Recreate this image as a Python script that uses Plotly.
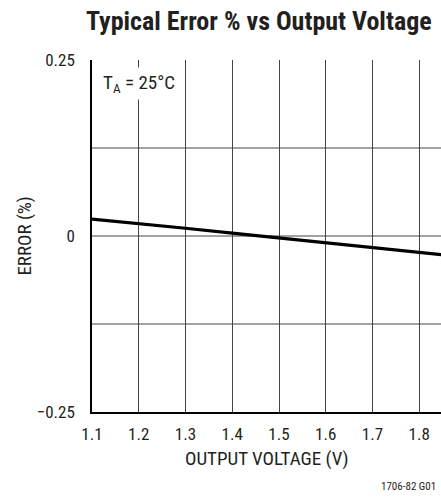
import plotly.graph_objects as go

# Data
voltage = [1.1, 1.2, 1.3, 1.4, 1.5, 1.6, 1.7, 1.8, 1.9]
error_pct = [0.024, 0.018, 0.011, 0.004, -0.003, -0.010, -0.017, -0.023, -0.030]
x_ticks = [1.1, 1.2, 1.3, 1.4, 1.5, 1.6, 1.7, 1.8]
x_tick_labels = ["1.1", "1.2", "1.3", "1.4", "1.5", "1.6", "1.7", "1.8"]
y_ticks = [-0.25, 0, 0.25]
y_tick_labels = ["\u22120.25", "0", "0.25"]
y_grid = [-0.25, -0.125, 0, 0.125, 0.25]

FONT = "Roboto Condensed, DejaVu Sans Condensed, sans-serif"

fig = go.Figure()
fig.add_trace(go.Scatter(
    x=voltage, y=error_pct, mode="lines",
    line=dict(color="black", width=3.2),
    hoverinfo="skip", showlegend=False,
))

fig.update_layout(
    width=441, height=498,
    margin=dict(l=92, r=0, t=60, b=86),
    paper_bgcolor="white", plot_bgcolor="white",
    font=dict(family=FONT, color="#231f20", size=16),
    showlegend=False,
)

fig.update_xaxes(
    range=[1.1, 1.1 + 0.1 * 349 / 46.75],
    tickmode="array", tickvals=x_ticks, ticktext=x_tick_labels,
    showgrid=True, gridcolor="#444", gridwidth=1,
    showline=True, linecolor="black", linewidth=1.5, mirror=False,
    zeroline=False, ticks="", ticklabelstandoff=6,
    tickfont=dict(size=17), automargin=False,
)
fig.update_yaxes(
    range=[-0.25, 0.25],
    tickmode="array", tickvals=y_ticks, ticktext=y_tick_labels,
    showgrid=False,
    showline=True, linecolor="black", linewidth=1.5, mirror=True,
    zeroline=False, ticks="", ticklabelstandoff=12,
    tickfont=dict(size=17), automargin=False,
)

# horizontal grid lines at ±0.125 and 0 (in addition to borders)
for yv in y_grid[1:-1]:
    fig.add_shape(type="line", xref="paper", yref="y", x0=0, x1=1, y0=yv, y1=yv,
                  line=dict(color="#444", width=1), layer="below")

# axis titles
fig.add_annotation(
    text="OUTPUT VOLTAGE (V)", xref="paper", yref="paper",
    x=0.5, y=0, yshift=-46, xanchor="center", yanchor="middle",
    showarrow=False, font=dict(size=19),
)
fig.add_annotation(
    text="ERROR (%)", xref="paper", yref="paper",
    x=-0.196, y=0.5, xanchor="center", yanchor="middle",
    textangle=-90, showarrow=False, font=dict(size=19),
)

fig.add_annotation(
    text="T<sub>A</sub> = 25°C", xref="paper", yref="paper",
    x=0.02, y=0.933, xanchor="left", yanchor="middle",
    showarrow=False, bgcolor="white", font=dict(size=19),
    borderpad=3,
)

fig.add_annotation(
    text="<b>Typical Error % vs Output Voltage</b>",
    xref="paper", yref="paper", x=0.478, y=1.0, yshift=39,
    xanchor="center", yanchor="middle", showarrow=False,
    font=dict(size=26, color="#231f20"),
)

fig.add_annotation(
    text="1706-82 G01", xref="paper", yref="paper",
    x=0.99, y=0, yshift=-74, xanchor="right", yanchor="middle",
    showarrow=False, font=dict(size=11),
)

fig.write_html("out.html", config={"displayModeBar": False},
               post_script="document.body.style.margin='0';")
